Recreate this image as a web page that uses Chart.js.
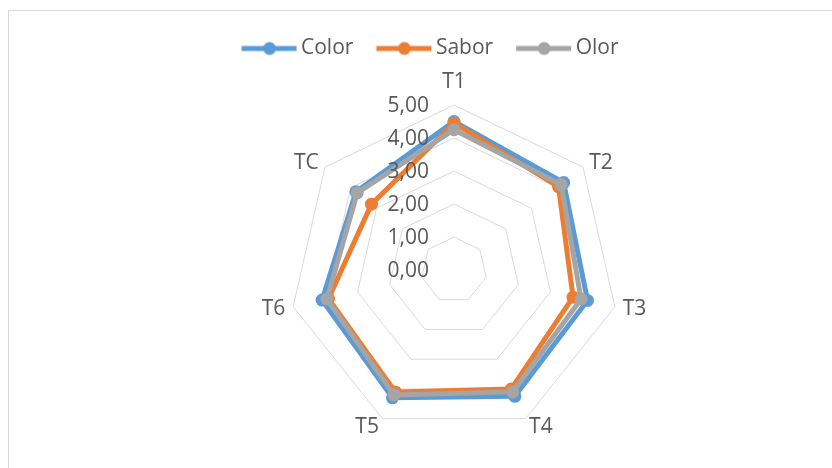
<!DOCTYPE html>
<html>
<head>
<meta charset="utf-8">
<script src="https://cdn.jsdelivr.net/npm/chart.js@4"></script>
<style>
  html, body { margin: 0; padding: 0; background: #fff; }
  #wrap { position: relative; width: 832px; height: 468px; overflow: hidden; }
  #frame { position: absolute; left: 8px; top: 10px; width: 900px; height: 500px; border: 1px solid #D9D9D9; }
  #chart { position: absolute; left: 0; top: 0; }
</style>
</head>
<body>
<div id="wrap">
  <div id="frame"></div>
  <canvas id="chart" width="832" height="468"></canvas>
</div>
<script>
// categories and series
const categories = ['T1', 'T2', 'T3', 'T4', 'T5', 'T6', 'TC'];
const colorValues = [4.50, 4.25, 4.15, 4.25, 4.30, 4.10, 3.80];
const saborValues = [4.45, 4.05, 3.70, 4.00, 4.10, 3.90, 3.20];
const olorValues  = [4.25, 4.15, 3.95, 4.10, 4.20, 3.95, 3.75];
const tickLabels = ['0,00', '1,00', '2,00', '3,00', '4,00', '5,00'];

const BLUE = '#5B9BD5';
const ORANGE = '#ED7D31';
const GRAY = '#A5A5A5';
const TEXT = '#595959';
const FONT = "'Open Sans', 'Liberation Sans', sans-serif";
const FONT_SIZE = 21;

// legend mark: line with a dot, drawn on a small canvas
function makeMark(color){
  const c = document.createElement('canvas');
  c.width = 86; c.height = 16;
  const g = c.getContext('2d');
  g.strokeStyle = color;
  g.lineWidth = 5;
  g.beginPath();
  g.moveTo(30, 8);
  g.lineTo(85, 8);
  g.stroke();
  g.fillStyle = color;
  g.beginPath();
  g.arc(58, 8, 6.5, 0, Math.PI * 2);
  g.fill();
  return c;
}
const legendMarks = [makeMark(BLUE), makeMark(ORANGE), makeMark(GRAY)];

// tick labels left of the vertical axis and category labels next to the
// outer ring, excel style; both drawn on top of the lines
const labelPlugin = {
  id: 'radarLabels',
  afterDatasetsDraw(chart){
    const s = chart.scales.r;
    const ctx = chart.ctx;
    ctx.save();
    ctx.font = FONT_SIZE + 'px ' + FONT;
    ctx.fillStyle = TEXT;
    ctx.textAlign = 'right';
    ctx.textBaseline = 'middle';
    s.ticks.forEach((t, i) => {
      const d = s.getDistanceFromCenterForValue(t.value);
      ctx.fillText(tickLabels[i], s.xCenter - 25, s.yCenter - d + 1);
    });

    categories.forEach((name, i) => {
      const a = s.getIndexAngle(i);
      const sin = Math.sin(a);
      const top = Math.abs(sin) < 0.1;
      const p = s.getPointPosition(i, s.drawingArea + (top ? 24 : 8));
      ctx.textAlign = top ? 'center' : (sin > 0 ? 'left' : 'right');
      ctx.fillText(name, p.x, p.y + 1);
    });
    ctx.restore();
  }
};

function series(label, data, color, order){
  return {
    label, data, order,
    borderColor: color,
    backgroundColor: color,
    borderWidth: 5,
    fill: false,
    pointRadius: 6.5,
    pointBorderWidth: 0,
    pointBackgroundColor: color,
    pointHoverRadius: 6.5
  };
}

new Chart(document.getElementById('chart'), {
  type: 'radar',
  data: {
    labels: categories,
    datasets: [
      series('Color', colorValues, BLUE, 3),
      series('Sabor', saborValues, ORANGE, 2),
      series('Olor', olorValues, GRAY, 1)
    ]
  },
  options: {
    responsive: false,
    animation: false,
    layout: { padding: { top: 38, left: 5, right: 0, bottom: 6 } },
    plugins: {
      tooltip: { enabled: false },
      legend: {
        position: 'top',
        labels: {
          usePointStyle: true,
          pointStyleWidth: 72,
          padding: 0,
          color: TEXT,
          font: { family: FONT, size: FONT_SIZE },
          sort: (a, b) => a.datasetIndex - b.datasetIndex,
          generateLabels(chart){
            const items = Chart.defaults.plugins.legend.labels.generateLabels(chart);
            items.forEach(it => { it.pointStyle = legendMarks[it.datasetIndex]; });
            return items;
          }
        }
      }
    },
    scales: {
      r: {
        min: 0,
        max: 5,
        // plot placed like the original
        afterSetDimensions(s){
          s.xCenter = 454;
          s.yCenter = 270;
          s.drawingArea = 165;
        },
        ticks: { stepSize: 1, display: false },
        grid: { color: '#D9D9D9', lineWidth: 1 },
        angleLines: { display: false },
        pointLabels: { display: false }
      }
    }
  },
  plugins: [labelPlugin]
});
</script>
</body>
</html>
